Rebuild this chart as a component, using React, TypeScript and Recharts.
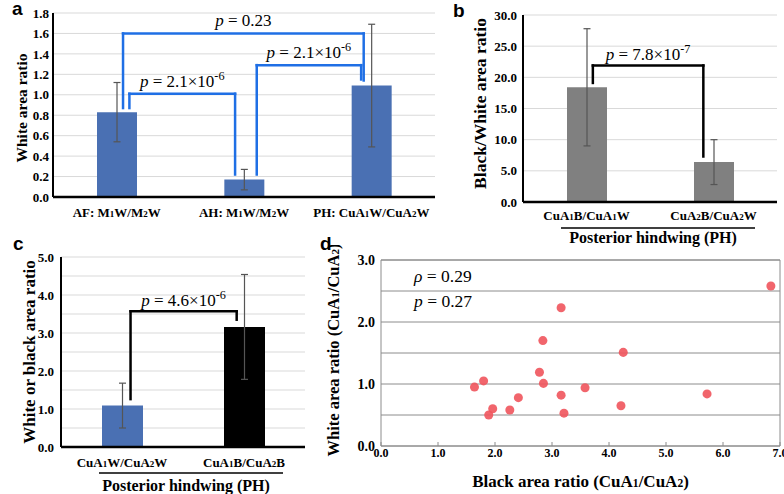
import React from "react";
import {
  Bar,
  BarChart,
  CartesianGrid,
  Cell,
  ErrorBar,
  ReferenceDot,
  ReferenceLine,
  Scatter,
  ScatterChart,
  XAxis,
  YAxis,
} from "recharts";

const SERIF = "'Liberation Serif', 'Times New Roman', serif";
const SANS = "'Liberation Sans', Arial, sans-serif";
const BLUE = "#4a70b3";
const BRACKET_BLUE = "#1f6fe5";
const GRID = "#d9d9d9";
const GRID_D = "#8c8c8c";

// panel a
const catsA = ["AF: M1W/M2W", "AH: M1W/M2W", "PH: CuA1W/CuA2W"];
const valsA = [0.83, 0.17, 1.09];
const errA = [0.29, 0.1, 0.6];
const ticksA = [0, 0.2, 0.4, 0.6, 0.8, 1.0, 1.2, 1.4, 1.6, 1.8];
const bracketsA = [
  { x1: 0.55, x2: 2.44, top: 1.6, end1: 0.87, end2: 1.14, p: "0.23", exp: "" },
  { x1: 0.6, x2: 1.43, top: 1.01, end1: 0.87, end2: 0.22, p: "2.1×10", exp: "-6" },
  { x1: 1.6, x2: 2.42, top: 1.29, end1: 0.22, end2: 1.15, p: "2.1×10", exp: "-6" },
];

// panel b
const catsB = ["CuA1B/CuA1W", "CuA2B/CuA2W"];
const valsB = [18.4, 6.4];
const errB = [9.4, 3.6];
const ticksB = [0, 5, 10, 15, 20, 25, 30];
const bracketsB = [{ x1: 0.55, x2: 1.42, top: 21.9, end1: 19.1, end2: 7.3, p: "7.8×10", exp: "-7" }];

// panel c
const catsC = ["CuA1W/CuA2W", "CuA1B/CuA2B"];
const valsC = [1.09, 3.16];
const errC = [0.59, 1.38];
const colorsC = [BLUE, "#000000"];
const ticksC = [0, 0.5, 1, 1.5, 2, 2.5, 3, 3.5, 4, 4.5, 5];
const bracketsC = [{ x1: 0.57, x2: 1.44, top: 3.57, end1: 1.26, end2: 3.35, p: "4.6×10", exp: "-6" }];

// panel d
const xD = [6.84, 3.16, 2.84, 4.25, 2.78, 1.8, 1.64, 2.85, 3.58, 2.41, 3.16, 5.72, 1.96, 2.26, 1.89, 3.21, 4.21];
const yD = [2.58, 2.23, 1.7, 1.51, 1.19, 1.05, 0.95, 1.01, 0.94, 0.78, 0.82, 0.84, 0.6, 0.58, 0.5, 0.53, 0.65];
const xTicksD = [0, 1, 2, 3, 4, 5, 6, 7];
const yTicksD = [0, 0.5, 1, 1.5, 2, 2.5, 3];

// pos = centre of each category slot on the hidden numeric axis used by the brackets
const dataA = catsA.map((name, i) => ({ name, pos: i + 0.5, value: valsA[i], err: errA[i] }));
const dataB = catsB.map((name, i) => ({ name, pos: i + 0.5, value: valsB[i], err: errB[i] }));
const dataC = catsC.map((name, i) => ({ name, pos: i + 0.5, value: valsC[i], err: errC[i] }));
const pointsD = xD.map((x, i) => ({ x, y: yD[i] }));

const fmt1 = (v: number) => v.toFixed(1);
const fmtInt = (v: number) => (Number.isInteger(v) ? v.toFixed(1) : "");
const yTick = { fill: "#000", fontSize: 13, fontWeight: "bold", fontFamily: SERIF };

// digits in the labels are drawn small (M1, CuA2 ...)
function smallDigits(text: string, size: number) {
  return text.split(/(\d)/).map((part, i) =>
    /^\d$/.test(part) ? (
      <tspan key={i} fontSize={size}>
        {part}
      </tspan>
    ) : (
      <tspan key={i}>{part}</tspan>
    )
  );
}

function CatTick(props: any) {
  const { x, y, payload, lift } = props;
  return (
    <text x={x} y={y + lift} textAnchor="middle" fontFamily={SERIF} fontWeight="bold" fontSize={13} fill="#000">
      {smallDigits(String(payload.value), 9)}
    </text>
  );
}

function YTitle(props: any) {
  const { viewBox, text, dx, dy = 0, size } = props;
  if (!viewBox) return null;
  const x = viewBox.x + dx;
  const y = viewBox.y + viewBox.height / 2 + dy;
  return (
    <text
      x={x}
      y={y}
      dy="0.35em"
      transform={`rotate(-90 ${x} ${y})`}
      textAnchor="middle"
      fontFamily={SERIF}
      fontWeight="bold"
      fontSize={size}
      fill="#000"
      style={{ whiteSpace: "pre" }}
    >
      {smallDigits(text, size * 0.68)}
    </text>
  );
}

function XTitle(props: any) {
  const { viewBox, text, dy, size } = props;
  if (!viewBox) return null;
  return (
    <text
      x={viewBox.x + viewBox.width / 2}
      y={viewBox.y + dy}
      textAnchor="middle"
      fontFamily={SERIF}
      fontWeight="bold"
      fontSize={size}
      fill="#000"
      style={{ whiteSpace: "pre" }}
    >
      {smallDigits(text, size * 0.68)}
    </text>
  );
}

function GroupLabel(props: any) {
  const { viewBox, text, lineY, textY } = props;
  if (!viewBox) return null;
  const { x, y, width } = viewBox;
  return (
    <g>
      <line x1={x + 38} x2={x + width - 22} y1={y + lineY} y2={y + lineY} stroke="#000" strokeWidth={1.6} />
      <text x={x + width / 2 + 3} y={y + textY} textAnchor="middle" fontFamily={SERIF} fontWeight="bold" fontSize={16} fill="#000">
        {text}
      </text>
    </g>
  );
}

function PLabel(props: any) {
  const { viewBox, p, exp, lift, size } = props;
  if (!viewBox) return null;
  return (
    <text
      x={viewBox.x + viewBox.width / 2}
      y={viewBox.y - lift}
      textAnchor="middle"
      fontFamily={SERIF}
      fontSize={size}
      fill="#000"
      style={{ whiteSpace: "pre" }}
    >
      <tspan fontStyle="italic">p</tspan>
      <tspan>{" = " + p}</tspan>
      {exp ? (
        <tspan fontSize={size * 0.72} dy={-size * 0.42}>
          {exp}
        </tspan>
      ) : null}
    </text>
  );
}

function StatText(props: any) {
  const { viewBox, sym, val } = props;
  if (!viewBox) return null;
  return (
    <text x={viewBox.x} y={viewBox.y} fontFamily={SERIF} fontSize={17.5} fill="#000" style={{ whiteSpace: "pre" }}>
      <tspan fontStyle="italic">{sym}</tspan>
      <tspan>{" = " + val}</tspan>
    </text>
  );
}

function bracket(b: any, key: string, color: string, lift: number) {
  const common = { xAxisId: "n", stroke: color, strokeWidth: 2.5, ifOverflow: "visible" as const, strokeLinecap: "square" as const };
  return [
    <ReferenceLine key={key + "l"} {...common} segment={[{ x: b.x1, y: b.end1 }, { x: b.x1, y: b.top }]} />,
    <ReferenceLine
      key={key + "t"}
      {...common}
      segment={[{ x: b.x1, y: b.top }, { x: b.x2, y: b.top }]}
      label={<PLabel p={b.p} exp={b.exp} lift={lift} size={17} />}
    />,
    <ReferenceLine key={key + "r"} {...common} segment={[{ x: b.x2, y: b.top }, { x: b.x2, y: b.end2 }]} />,
  ];
}

const panelLetter = (ch: string, left: number, top: number) => (
  <div
    style={{
      position: "absolute",
      left,
      top,
      fontFamily: SANS,
      fontWeight: "bold",
      fontSize: 19,
      lineHeight: 1,
      color: "#000",
    }}
  >
    {ch}
  </div>
);

export default function App() {
  return (
    <div style={{ position: "absolute", left: 0, top: 0, width: 784, height: 494, background: "#fff", overflow: "hidden" }}>
      <div style={{ position: "absolute", left: 0, top: 0 }}>
        <BarChart width={440} height={230} data={dataA} margin={{ top: 13, right: 5, bottom: 3, left: 0 }} barSize={40}>
          <CartesianGrid vertical={false} stroke={GRID} />
          <XAxis
            dataKey="name"
            height={30}
            interval={0}
            tickLine={false}
            tickSize={0}
            tickMargin={0}
            axisLine={{ stroke: "#000", strokeWidth: 2.5 }}
            tick={<CatTick lift={20} />}
          />
          <XAxis xAxisId="n" dataKey="pos" type="number" domain={[0, 3]} allowDataOverflow hide />
          <YAxis
            width={53}
            domain={[0, 1.8]}
            ticks={ticksA}
            interval={0}
            tickFormatter={fmt1}
            tick={yTick}
            tickLine={false}
            tickSize={0}
            tickMargin={4}
            axisLine={{ stroke: "#000", strokeWidth: 2 }}
            label={<YTitle text="White area ratio" dx={22} dy={3} size={15.5} />}
          />
          <Bar dataKey="value" fill={BLUE} isAnimationActive={false}>
            <ErrorBar dataKey="err" width={3.5} stroke="#555" strokeWidth={1.2} />
          </Bar>
          {bracketsA.flatMap((b, i) => bracket(b, "a" + i, BRACKET_BLUE, 7))}
        </BarChart>
      </div>

      <div style={{ position: "absolute", left: 440, top: 0 }}>
        <BarChart width={344} height={250} data={dataB} margin={{ top: 15, right: 7, bottom: 0, left: 0 }} barSize={40}>
          <CartesianGrid vertical={false} stroke={GRID} />
          <XAxis
            dataKey="name"
            height={48}
            interval={0}
            tickLine={false}
            tickSize={0}
            tickMargin={0}
            axisLine={{ stroke: "#000", strokeWidth: 2.5 }}
            tick={<CatTick lift={18} />}
            label={<GroupLabel text="Posterior hindwing (PH)" lineY={26} textY={41} />}
          />
          <XAxis xAxisId="n" dataKey="pos" type="number" domain={[0, 2]} allowDataOverflow hide />
          <YAxis
            width={83}
            domain={[0, 30]}
            ticks={ticksB}
            interval={0}
            tickFormatter={fmt1}
            tick={yTick}
            tickLine={false}
            tickSize={0}
            tickMargin={6}
            axisLine={{ stroke: "#000", strokeWidth: 2 }}
            label={<YTitle text="Black/White area ratio" dx={40} dy={-5} size={17.5} />}
          />
          <Bar dataKey="value" fill="#808080" isAnimationActive={false}>
            <ErrorBar dataKey="err" width={3.5} stroke="#555" strokeWidth={1.2} />
          </Bar>
          {bracketsB.flatMap((b, i) => bracket(b, "b" + i, "#000", 5))}
        </BarChart>
      </div>

      <div style={{ position: "absolute", left: 0, top: 245 }}>
        <BarChart width={310} height={249} data={dataC} margin={{ top: 12, right: 5, bottom: 0, left: 0 }} barSize={41}>
          <CartesianGrid vertical={false} stroke={GRID} />
          <XAxis
            dataKey="name"
            height={47}
            interval={0}
            tickLine={false}
            tickSize={0}
            tickMargin={0}
            axisLine={{ stroke: "#000", strokeWidth: 2.5 }}
            tick={<CatTick lift={20} />}
            label={<GroupLabel text="Posterior hindwing (PH)" lineY={26} textY={44} />}
          />
          <XAxis xAxisId="n" dataKey="pos" type="number" domain={[0, 2]} allowDataOverflow hide />
          <YAxis
            width={61}
            domain={[0, 5]}
            ticks={ticksC}
            interval={0}
            tickFormatter={fmtInt}
            tick={yTick}
            tickLine={false}
            tickSize={0}
            tickMargin={7}
            axisLine={{ stroke: "#000", strokeWidth: 2 }}
            label={<YTitle text="White or black area ratio" dx={29} size={17} />}
          />
          <Bar dataKey="value" isAnimationActive={false}>
            {dataC.map((d, i) => (
              <Cell key={d.name} fill={colorsC[i]} />
            ))}
            <ErrorBar dataKey="err" width={3.5} stroke="#555" strokeWidth={1.2} />
          </Bar>
          {bracketsC.flatMap((b, i) => bracket(b, "c" + i, "#000", 5))}
        </BarChart>
      </div>

      <div style={{ position: "absolute", left: 300, top: 245 }}>
        <ScatterChart width={484} height={249} margin={{ top: 15, right: 4, bottom: 0, left: 0 }}>
          <CartesianGrid vertical={false} stroke={GRID_D} />
          <XAxis
            type="number"
            dataKey="x"
            domain={[0, 7]}
            ticks={xTicksD}
            interval={0}
            tickFormatter={fmt1}
            height={48}
            tick={{ ...yTick, fontSize: 12 }}
            tickSize={-4}
            tickMargin={6}
            tickLine={{ stroke: GRID_D }}
            axisLine={{ stroke: GRID_D }}
            label={<XTitle text="Black area ratio (CuA1/CuA2)" dy={40.5} size={17} />}
          />
          <YAxis
            type="number"
            dataKey="y"
            domain={[0, 3]}
            ticks={yTicksD}
            interval={0}
            tickFormatter={fmtInt}
            width={81}
            tick={{ ...yTick, fontSize: 14 }}
            tickLine={false}
            tickSize={0}
            tickMargin={6}
            axisLine={{ stroke: GRID_D }}
            label={<YTitle text="White area ratio (CuA1/CuA2)" dx={33} dy={-3} size={16.5} />}
          />
          <ReferenceLine x={7} stroke={GRID_D} ifOverflow="visible" />
          <ReferenceLine y={3} stroke={GRID_D} ifOverflow="visible" />
          <Scatter data={pointsD} fill="#f0545c" fillOpacity={0.9} isAnimationActive={false} />
          <ReferenceDot x={0.58} y={2.65} r={0} fill="none" stroke="none" label={<StatText sym="ρ" val="0.29" />} />
          <ReferenceDot x={0.58} y={2.25} r={0} fill="none" stroke="none" label={<StatText sym="p" val="0.27" />} />
        </ScatterChart>
      </div>

      {panelLetter("a", 12, -1)}
      {panelLetter("b", 453, 1)}
      {panelLetter("c", 13, 234)}
      {panelLetter("d", 320, 234)}
    </div>
  );
}
